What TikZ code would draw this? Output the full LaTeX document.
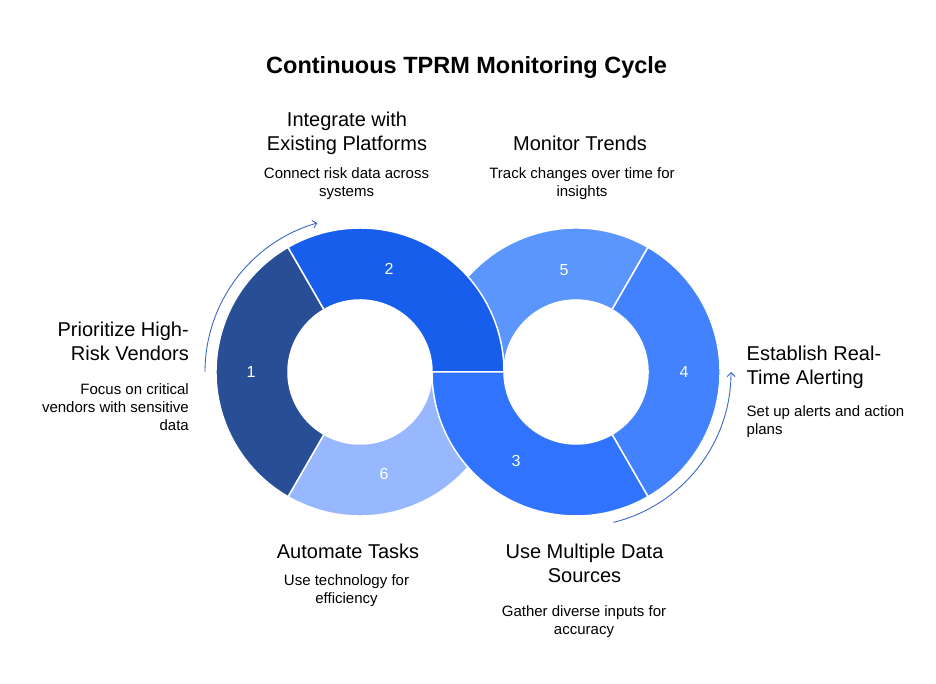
\documentclass[tikz,border=0pt]{standalone}
\usepackage{fontspec}
\setmainfont{Liberation Sans}
\usetikzlibrary{calc,arrows.meta}
\definecolor{cone}{HTML}{284E96}
\definecolor{ctwo}{HTML}{165EEB}
\definecolor{cthree}{HTML}{2F73FF}
\definecolor{cfour}{HTML}{4282FE}
\definecolor{cfive}{HTML}{5B95FE}
\definecolor{csix}{HTML}{97B8FF}
\definecolor{arrowblue}{HTML}{3B68C8}
\newcommand\ringseg[4]{%
  \fill[#4,draw=white,line width=1.5pt] ($(#1)+(#2:144pt)$) arc[start angle=#2,end angle=#3,radius=144pt]
    -- ($(#1)+(#3:72pt)$) arc[start angle=#3,end angle=#2,radius=72pt] -- cycle;}
\tikzset{
  headtext/.style={inner sep=0pt,font=\fontsize{20}{24}\selectfont,text=black},
  subtext/.style={inner sep=0pt,font=\fontsize{15}{18}\selectfont,text=black},
  numtext/.style={inner sep=0pt,font=\fontsize{16}{18}\selectfont,text=white},
  cyclearrow/.style={draw=arrowblue,line width=0.9pt,-{Straight Barb[length=4pt,width=8pt]}}
}
\begin{document}
\begin{tikzpicture}[x=1pt,y=1pt]
\useasboundingbox (0,0) rectangle (936,684);
\fill[white] (0,0) rectangle (936,684);
\coordinate (cL) at (360,312);
\coordinate (cR) at (576,312);
% ring segments
\ringseg{cR}{60}{180}{cfive}
\ringseg{cL}{240}{360}{csix}
\ringseg{cL}{120}{240}{cone}
\ringseg{cR}{-60}{60}{cfour}
\ringseg{cL}{0}{120}{ctwo}
\ringseg{cR}{180}{300}{cthree}
% numbers
\node[numtext] (n1) at (251,312) {1};
\node[numtext] (n2) at (389,415) {2};
\node[numtext] (n3) at (516,223) {3};
\node[numtext] (n4) at (684,312) {4};
\node[numtext] (n5) at (564,414) {5};
\node[numtext] (n6) at (384,210) {6};
% arrows
\coordinate (aLs) at ($(cL)+(180:155pt)$);
\coordinate (aRs) at ($(cR)+(-76:155pt)$);
\draw[cyclearrow] (aLs) arc[start angle=180,end angle=106,radius=155pt];
\draw[cyclearrow] (aRs) arc[start angle=-76,end angle=0,radius=155pt];
% title
\node[inner sep=0pt,anchor=north,font=\fontsize{23.5}{28}\selectfont\bfseries] (title) at (466.6,627.5) {Continuous TPRM Monitoring Cycle};
% labels
\node[headtext,anchor=north,align=center] (h2) at (347,572.4) {Integrate with\\Existing Platforms};
\node[subtext,anchor=north,align=center] (s2) at (346.5,516.5) {Connect risk data across\\systems};
\node[headtext,anchor=north,align=center] (h5) at (580,548.4) {Monitor Trends};
\node[subtext,anchor=north,align=center] (s5) at (582,516.5) {Track changes over time for\\insights};
\node[headtext,anchor=north east,align=right] (h1) at (189,362.4) {Prioritize High-\\Risk Vendors};
\node[subtext,anchor=north east,align=right] (s1) at (189,300.8) {Focus on critical\\vendors with sensitive\\data};
\node[headtext,anchor=north west,align=left] (h4) at (746.5,338.4) {Establish Real-\\Time Alerting};
\node[subtext,anchor=north west,align=left] (s4) at (746.5,278.5) {Set up alerts and action\\plans};
\node[headtext,anchor=north,align=center] (h6) at (348,140.4) {Automate Tasks};
\node[subtext,anchor=north,align=center] (s6) at (346.5,110) {Use technology for\\efficiency};
\node[headtext,anchor=north,align=center] (h3) at (584.5,140.4) {Use Multiple Data\\Sources};
\node[subtext,anchor=north,align=center] (s3) at (584,78.5) {Gather diverse inputs for\\accuracy};
\end{tikzpicture}
\end{document}
